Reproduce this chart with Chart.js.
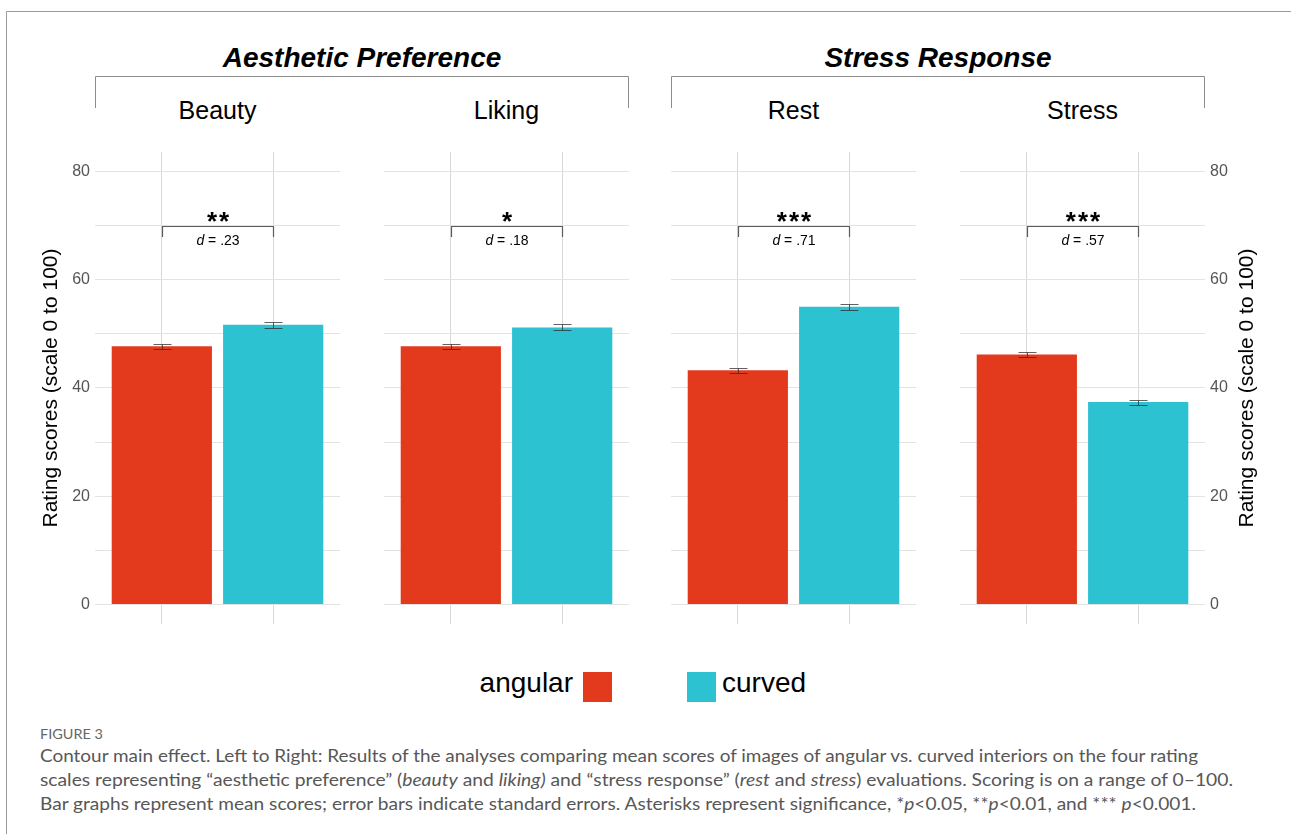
<!DOCTYPE html>
<html>
<head>
<meta charset="utf-8">
<script src="https://cdn.jsdelivr.net/npm/chart.js@4.4.1/dist/chart.umd.min.js"></script>
<style>
  html, body { margin: 0; padding: 0; background: #fff; }
  #page { position: relative; width: 1291px; height: 834px; overflow: hidden; background: #fff; }
  #page canvas { position: absolute; }
  #deco { position: absolute; left: 0; top: 0; }
</style>
</head>
<body>
<div id="page">
  <svg id="deco" width="1291" height="834" xmlns="http://www.w3.org/2000/svg"></svg>
</div>
<script>
// ---- data ----
const panelNames    = ['Beauty', 'Liking', 'Rest', 'Stress'];
const groupTitles   = ['Aesthetic Preference', 'Stress Response'];
const conditions    = ['angular', 'curved'];
const angularMeans  = [47.7, 47.7, 43.3, 46.2];
const curvedMeans   = [51.7, 51.2, 55.0, 37.4];
const angularSE     = [0.50, 0.50, 0.45, 0.40];
const curvedSE      = [0.55, 0.55, 0.55, 0.45];
const significance  = ['**', '*', '***', '***'];
const effectSizes   = ['.23', '.18', '.71', '.57'];
const yTickValues   = [0, 10, 20, 30, 40, 50, 60, 70, 80];
const yAxisTitle    = 'Rating scores (scale 0 to 100)';

// ---- style / layout ----
const FONT = "'Liberation Sans', Arial, Helvetica, sans-serif";
const RED = '#E33A1E';
const CYAN = '#2CC2D1';
const BRACKET_AT = 70;       // height of the significance bracket
const BRACKET_LEG = 2.1;     // leg length in data units
const PLOT_TOP = 152, PLOT_H = 472;
const frames = [
  { left: 34,  width: 306, side: 'left',  axisW: 61 },
  { left: 384, width: 245, side: null,    axisW: 0 },
  { left: 671, width: 245, side: null,    axisW: 0 },
  { left: 960, width: 304, side: 'right', axisW: 59 }
];

// error bars (mean ± SE) drawn over each bar
const errorBarPlugin = {
  id: 'errorBars',
  afterDatasetsDraw(chart, args, opts) {
    const i = opts.panel;
    const ys = chart.scales.y;
    const ctx = chart.ctx;
    const means = [angularMeans[i], curvedMeans[i]];
    const ses = [angularSE[i], curvedSE[i]];
    ctx.save();
    ctx.strokeStyle = 'rgba(45,45,45,0.75)';
    ctx.lineWidth = 1;
    chart.getDatasetMeta(0).data.forEach((bar, j) => {
      const x = Math.round(bar.x) + 0.5;
      const hi = Math.round(ys.getPixelForValue(means[j] + ses[j])) + 0.5;
      const lo = Math.round(ys.getPixelForValue(means[j] - ses[j])) + 0.5;
      ctx.beginPath();
      ctx.moveTo(x, hi); ctx.lineTo(x, lo);
      ctx.moveTo(x - 9, hi); ctx.lineTo(x + 9, hi);
      ctx.moveTo(x - 9, lo); ctx.lineTo(x + 9, lo);
      ctx.stroke();
    });
    ctx.restore();
  }
};

// significance bracket with stars and effect size
const sigPlugin = {
  id: 'sigBracket',
  afterDatasetsDraw(chart, args, opts) {
    const i = opts.panel;
    const xs = chart.scales.x, ys = chart.scales.y;
    const ctx = chart.ctx;
    const x0 = Math.round(xs.getPixelForValue(0)) + 0.5;
    const x1 = Math.round(xs.getPixelForValue(1)) + 0.5;
    const yb = Math.round(ys.getPixelForValue(BRACKET_AT)) + 0.5;
    const yl = ys.getPixelForValue(BRACKET_AT - BRACKET_LEG);
    const cx = (x0 + x1) / 2;
    ctx.save();
    ctx.strokeStyle = '#5c5c5c';
    ctx.lineWidth = 1.2;
    ctx.beginPath();
    ctx.moveTo(x0, yl); ctx.lineTo(x0, yb); ctx.lineTo(x1, yb); ctx.lineTo(x1, yl);
    ctx.stroke();

    // stars, spaced out a little
    ctx.fillStyle = '#000';
    ctx.textBaseline = 'alphabetic';
    ctx.textAlign = 'left';
    ctx.font = 'bold 26px ' + FONT;
    const stars = significance[i];
    const gap = 2;
    const sw = ctx.measureText('*').width;
    const total = stars.length * sw + (stars.length - 1) * gap;
    for (let k = 0; k < stars.length; k++) {
      ctx.fillText('*', cx - total / 2 + k * (sw + gap), yb + 3);
    }

    const italicFont = 'italic 14px ' + FONT;
    const plainFont = '14px ' + FONT;
    const rest = ' = ' + effectSizes[i];
    ctx.font = italicFont; const w1 = ctx.measureText('d').width;
    ctx.font = plainFont;  const w2 = ctx.measureText(rest).width;
    const x = cx - (w1 + w2) / 2;
    ctx.textBaseline = 'middle';
    ctx.font = italicFont; ctx.fillText('d', x, yb + 15);
    ctx.font = plainFont;  ctx.fillText(rest, x + w1, yb + 15);
    ctx.restore();
  }
};

// vertical axis title, reading bottom-to-top on either side
const sideTitlePlugin = {
  id: 'sideTitle',
  afterDraw(chart, args, opts) {
    if (!opts.side) return;
    const s = chart.scales.y;
    const ctx = chart.ctx;
    const x = opts.side === 'left' ? s.left + 17 : s.right - 17;
    const y = (chart.chartArea.top + chart.chartArea.bottom) / 2;
    ctx.save();
    ctx.translate(x, y);
    ctx.rotate(-Math.PI / 2);
    ctx.fillStyle = '#000';
    ctx.font = '21px ' + FONT;
    ctx.textAlign = 'center';
    ctx.textBaseline = 'middle';
    ctx.fillText(yAxisTitle, 0, 0);
    ctx.restore();
  }
};

const page = document.getElementById('page');

panelNames.forEach((name, i) => {
  const f = frames[i];
  const cv = document.createElement('canvas');
  cv.width = f.width; cv.height = PLOT_H;
  cv.style.left = f.left + 'px';
  cv.style.top = PLOT_TOP + 'px';
  cv.style.width = f.width + 'px';
  cv.style.height = PLOT_H + 'px';
  page.appendChild(cv);

  const values = [angularMeans[i], curvedMeans[i]];
  new Chart(cv.getContext('2d'), {
    type: 'bar',
    data: {
      datasets: [{
        label: name,
        data: conditions.map((c, j) => ({ x: j, y: values[j] })),
        backgroundColor: [RED, CYAN],
        borderWidth: 0,
        barPercentage: 0.9,
        categoryPercentage: 1.0
      }]
    },
    options: {
      responsive: false,
      animation: false,
      events: [],
      layout: { padding: 0 },
      plugins: {
        legend: { display: false },
        tooltip: { enabled: false },
        errorBars: { panel: i },
        sigBracket: { panel: i },
        sideTitle: { side: f.side }
      },
      scales: {
        x: {
          type: 'linear',
          min: -0.6, max: 1.6,
          offset: false,
          afterBuildTicks: s => { s.ticks = conditions.map((c, j) => ({ value: j })); },
          afterFit: s => { s.height = 0; s.paddingLeft = 0; s.paddingRight = 0; },
          ticks: { display: false },
          grid: { color: '#d8d8d8', lineWidth: 1, drawTicks: false, offset: false },
          border: { display: false }
        },
        y: {
          position: f.side === 'right' ? 'right' : 'left',
          min: -3.6, max: 83.6,
          afterBuildTicks: s => { s.ticks = yTickValues.map(v => ({ value: v })); },
          afterFit: s => { s.width = f.axisW; s.paddingTop = 0; s.paddingBottom = 0; },
          ticks: {
            display: !!f.side,
            padding: 5,
            color: '#555',
            font: { family: FONT, size: 16 },
            callback: v => (v % 20 === 0 ? String(v) : '')
          },
          grid: { color: '#e3e3e3', lineWidth: 1, drawTicks: false },
          border: { display: false }
        }
      }
    },
    plugins: [errorBarPlugin, sigPlugin, sideTitlePlugin]
  });
});

// ---- headings, group brackets, legend, caption ----
const svg = document.getElementById('deco');
const NS = 'http://www.w3.org/2000/svg';
function el(tag, attrs, text) {
  const e = document.createElementNS(NS, tag);
  for (const k in attrs) e.setAttribute(k, attrs[k]);
  if (text !== undefined) e.textContent = text;
  svg.appendChild(e);
  return e;
}

// outer frame
el('path', { d: 'M6.5,834 V11.5 H1291', fill: 'none', stroke: '#9a9a9a', 'stroke-width': 1 });

// group headers spanning two panels each
[[0, 1], [2, 3]].forEach((pair, g) => {
  const a = frames[pair[0]], b = frames[pair[1]];
  const x0 = a.left + a.axisW + 0.5;
  const x1 = b.left + b.width - b.axisW - 0.5;
  el('path', { d: `M${x0},108 V76.5 H${x1} V108`, fill: 'none', stroke: '#8c8c8c', 'stroke-width': 1 });
  el('text', { x: (x0 + x1) / 2, y: 67, 'text-anchor': 'middle', 'font-family': FONT,
               'font-size': 28, 'font-weight': 'bold', 'font-style': 'italic', fill: '#000' }, groupTitles[g]);
});

// panel titles
panelNames.forEach((name, i) => {
  const f = frames[i];
  const left = f.left + (f.side === 'left' ? f.axisW : 0);
  const right = f.left + f.width - (f.side === 'right' ? f.axisW : 0);
  el('text', { x: (left + right) / 2, y: 119, 'text-anchor': 'middle', 'font-family': FONT,
               'font-size': 25, fill: '#000' }, name);
});

// legend
el('text', { x: 573, y: 692, 'text-anchor': 'end', 'font-family': FONT, 'font-size': 28, fill: '#000' }, conditions[0]);
el('rect', { x: 583, y: 672, width: 29, height: 30, fill: RED });
el('rect', { x: 687, y: 672, width: 29, height: 30, fill: CYAN });
el('text', { x: 722, y: 692, 'font-family': FONT, 'font-size': 28, fill: '#000' }, conditions[1]);

// caption
const CAP_FONT = "Lato, 'Open Sans', sans-serif";
el('text', { x: 40, y: 739, 'font-family': CAP_FONT, 'font-size': 12.5, fill: '#666',
             textLength: 63, lengthAdjust: 'spacingAndGlyphs' }, 'FIGURE 3');

function captionLine(y, width, parts) {
  const t = el('text', { x: 40, y: y, 'font-family': CAP_FONT, 'font-size': 17.5, fill: '#575757',
                         textLength: width, lengthAdjust: 'spacingAndGlyphs' });
  parts.forEach(p => {
    const s = document.createElementNS(NS, 'tspan');
    if (p[1]) s.setAttribute('font-style', 'italic');
    s.textContent = p[0];
    t.appendChild(s);
  });
}
captionLine(762, 1158, [['Contour main effect. Left to Right: Results of the analyses comparing mean scores of images of angular vs. curved interiors on the four rating']]);
captionLine(786, 1193, [
  ['scales representing \u201Caesthetic preference\u201D ('], ['beauty', 1], [' and '], ['liking)', 1],
  [' and \u201Cstress response\u201D ('], ['rest', 1], [' and '], ['stress', 1],
  [') evaluations. Scoring is on a range of 0\u2013100.']
]);
captionLine(810, 1156, [
  ['Bar graphs represent mean scores; error bars indicate standard errors. Asterisks represent significance, *'],
  ['p', 1], ['<0.05, **'], ['p', 1], ['<0.01, and *** '], ['p', 1], ['<0.001.']
]);
</script>
</body>
</html>
